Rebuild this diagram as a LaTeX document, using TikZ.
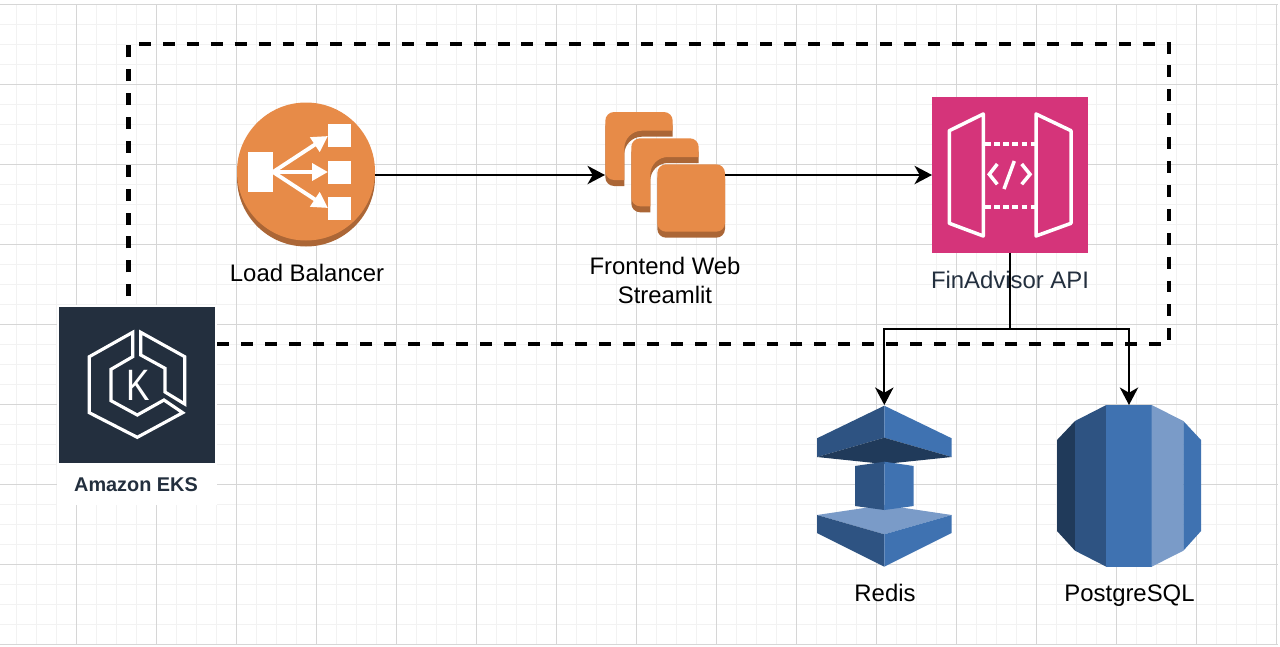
\documentclass[tikz,border=0pt]{standalone}
\usepackage{fontspec}
\setmainfont{Liberation Sans}
\usetikzlibrary{arrows.meta}
\definecolor{awsorange}{HTML}{E78B48}
\definecolor{awsshade}{HTML}{AB6636}
\definecolor{apipink}{HTML}{D5347A}
\definecolor{eksnavy}{HTML}{232F3E}
\definecolor{bluemid}{HTML}{3F72B1}
\definecolor{bluelow}{HTML}{2E5382}
\definecolor{bluedark}{HTML}{203A5A}
\definecolor{bluelight}{HTML}{7A9BC8}
\tikzset{
  iconbox/.style={inner sep=0,outer sep=0,draw=none},
  caption/.style={inner sep=0,text=black,align=center,font=\fontsize{13.6}{16.4}\selectfont},
  link/.style={line width=1pt,-{Stealth[length=10pt,width=10.5pt,inset=3pt]}},
  whiteline/.style={draw=white,line width=2pt,line join=miter},
  whitearrow/.style={white,line width=2.2pt,-{Triangle[length=9pt,width=9.5pt]}},
}
\begin{document}
\begin{tikzpicture}[x=0.02cm,y=-0.02cm]
\useasboundingbox (0,0) rectangle (1280,646);
\fill[white] (0,0) rectangle (1280,646);
% grid
\foreach \gx in {16.5,36.5,...,1277}
  \draw[black!5,line width=1pt] (\gx,4.5)--(\gx,644.5);
\foreach \gy in {24.5,44.5,...,640}
  \draw[black!5,line width=1pt] (0,\gy)--(1278,\gy);
\foreach \gx in {76.5,156.5,...,1277}
  \draw[black!16,line width=0.65pt] (\gx,4.5)--(\gx,644.5);
\foreach \gy in {4.5,84.5,...,645}
  \draw[black!16,line width=0.65pt] (0,\gy)--(1278,\gy);
% boundary
\draw[line width=2.3pt,dash pattern=on 6.8pt off 6.8pt] (128.5,344)--(128.5,44)--(1169,44)--(1169,344)--(128.5,344);
% eks
\fill[white] (57,305) rectangle (217,505);
\node[iconbox,fill=eksnavy,minimum width=3.12cm,minimum height=3.12cm] (eks) at (137,385) {};
\draw[whiteline,line width=1.8pt] (132.7,332.3)--(89.3,356.7)--(89.3,412.7)--(137.3,437.3)--(182.7,412.7)--(164,400)--(137.3,415)--(111,400.7)--(111,369.3)--(132.7,356.7)--cycle;
\draw[whiteline,line width=1.8pt] (140.7,332.3)--(184.7,356.7)--(184.7,404)--(165,392)--(165,368.3)--(140.7,355)--cycle;
\node[inner sep=0,text=white,xscale=0.8,font=\fontsize{25}{25}\selectfont] (ekslogo) at (138.5,385) {K};
\node[inner sep=0,anchor=base,text=eksnavy,font=\bfseries\fontsize{11.3}{14}\selectfont] (ekslabel) at (136,491.7) {Amazon EKS};
% load balancer
\node[iconbox,minimum width=2.76cm,minimum height=2.88cm] (lb) at (306,175) {};
\fill[awsshade] (306,177.5) circle (69);
\fill[awsorange] (306,171.5) circle (69);
\fill[white] (248,151.7) rectangle (273.3,192);
\foreach \ty in {124.3,161,197.3}
  \fill[white] (328,\ty) rectangle (350.7,\ty+22.5);
\foreach \ty in {136,172,208}
  \draw[whitearrow] (273,172)--(328,\ty);
\node[caption,anchor=base] (lblabel) at (307,281) {Load Balancer};
% frontend
\node[iconbox,minimum width=2.4cm,minimum height=2.52cm] (web) at (665,175) {};
\foreach \sx/\sy in {0/0,26/26.3}
  \foreach \dy/\tone in {6/awsshade,0/awsorange}
    \fill[\tone,shift={(\sx,\sy+\dy)}] (624.3,180) [rounded corners=5]--(605.3,180)--(605.3,112)--(672.7,112) [sharp corners]--(672.7,130.7) [rounded corners=10]--(624.3,130.7) [sharp corners]--cycle;
\fill[awsshade,rounded corners=5] (657.3,170) rectangle (725,237.7);
\fill[awsorange,rounded corners=5] (657.3,164.3) rectangle (725,231.7);
\node[caption] (weblabel) at (665,280.5) {Frontend Web\\Streamlit};
% api
\node[iconbox,fill=apipink,minimum width=3.12cm,minimum height=3.12cm] (api) at (1010,175) {};
\draw[whiteline,line join=round] (949.3,130.7)--(983.3,114)--(983.3,236)--(949.3,223.3)--cycle;
\draw[whiteline,line join=round] (1036,114)--(1071,130.7)--(1071,223.3)--(1036,236)--cycle;
\foreach \ty in {144.3,207.3}
  \draw[white,line width=2.2pt,dash pattern=on 3.2pt off 2pt] (985,\ty)--(1035,\ty);
\draw[whiteline] (997.3,164)--(989.3,174.3)--(997.3,184.3);
\draw[whiteline] (1021.7,164)--(1030,174.3)--(1021.7,184.3);
\draw[whiteline] (1014.3,161)--(1004,189);
\node[caption,anchor=base,text=eksnavy] (apilabel) at (1010,288) {FinAdvisor API};
% redis
\node[iconbox,minimum width=2.7cm,minimum height=3.24cm] (redis) at (884.3,486) {};
\fill[bluelow] (817,438.3)--(884.3,405.7)--(884.3,437.7)--(817,457)--cycle;
\fill[bluemid] (951.7,438.3)--(884.3,405.7)--(884.3,437.7)--(951.7,457)--cycle;
\fill[bluedark] (817,457)--(884.3,437.7)--(951.7,457)--(884.3,464)--cycle;
\fill[bluelight] (817,515)--(884.3,505)--(951.7,515)--(884.3,534.3)--cycle;
\fill[bluelow] (855,466)--(884.3,461.7)--(884.3,510)--(855,506)--cycle;
\fill[bluemid] (913.7,466)--(884.3,461.7)--(884.3,510)--(913.7,506)--cycle;
\fill[bluelow] (817,515)--(884.3,534.3)--(884.3,566.7)--(817,533)--cycle;
\fill[bluemid] (951.7,515)--(884.3,534.3)--(884.3,566.7)--(951.7,533)--cycle;
\node[caption,anchor=base] (redislabel) at (885,601.7) {Redis};
% postgres
\node[iconbox,minimum width=2.88cm,minimum height=3.24cm] (pg) at (1129,486) {};
\fill[bluedark] (1057,440)--(1075,421)--(1075,550.7)--(1057,531)--cycle;
\fill[bluelow] (1075,421)--(1106.3,405)--(1106.3,566.7)--(1075,550.7)--cycle;
\fill[bluemid] (1106.3,405) rectangle (1151.7,566.7);
\fill[bluelight] (1151.7,405)--(1183.3,421)--(1183.3,550.7)--(1151.7,566.7)--cycle;
\fill[bluemid] (1183.3,421)--(1201,440)--(1201,531)--(1183.3,550.7)--cycle;
\node[caption,anchor=base] (pglabel) at (1129.5,601.7) {PostgreSQL};
% connectors
\coordinate (apisplit) at (1010,329);
\draw[link] (lb.east)--(web.west);
\draw[link] (web.east)--(api.west);
\draw[link] (api.south)--(apisplit)-|(redis.north);
\draw[link] (api.south)--(apisplit)-|(pg.north);
\end{tikzpicture}
\end{document}
